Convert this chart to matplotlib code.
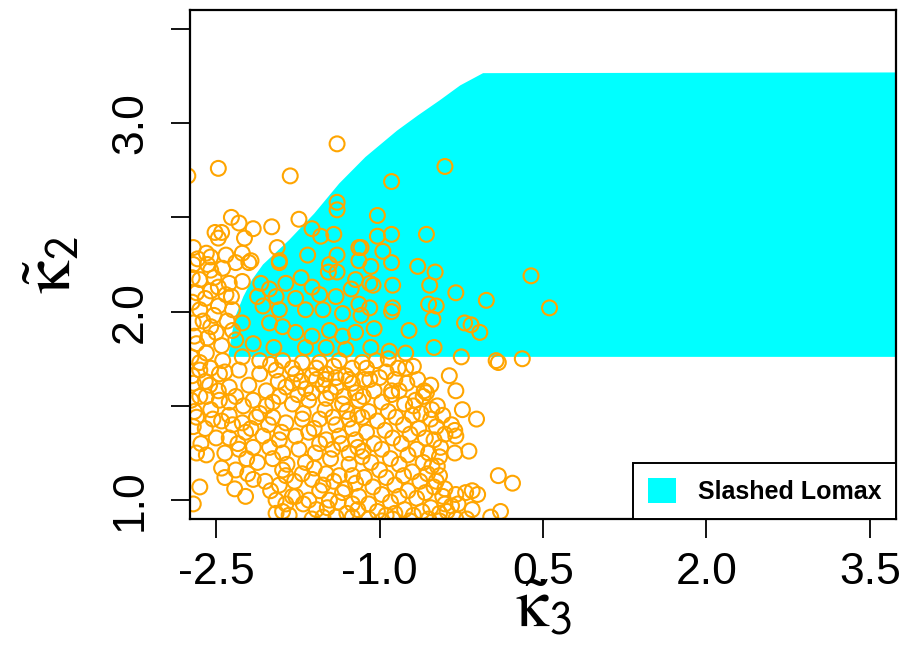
import numpy as np
import matplotlib
matplotlib.use("Agg")
import matplotlib.pyplot as plt
from matplotlib.patches import Polygon, Patch

plt.rcParams["font.family"] = ["Liberation Sans", "DejaVu Sans"]
plt.rcParams["mathtext.fontset"] = "stix"

# boundary of the slashed Lomax (skewness, kurtosis) region
edge_k3 = [-2.39, -2.35, -2.32, -2.25, -2.17, -2.07, -1.83, -1.60, -1.37,
           -1.13, -0.84, -0.65, -0.45, -0.26, -0.05]
edge_k2 = [1.76, 1.90, 1.98, 2.08, 2.17, 2.25, 2.38, 2.52, 2.68,
           2.82, 2.96, 3.04, 3.12, 3.20, 3.265]
k2_top = 3.27
k2_bottom = 1.76

# sample estimates (k3, k2)
sample_pts = [
    (-2.76, 2.72), (-2.48, 2.76), (-1.82, 2.72), (-1.39, 2.89), (-0.40, 2.77),
    (-0.89, 2.69), (-1.39, 2.58), (-1.39, 2.54), (-1.02, 2.51), (-1.02, 2.40),
    (-0.89, 2.41), (-0.57, 2.41), (-1.17, 2.34), (-0.97, 2.32), (0.39, 2.19),
    (0.56, 2.02),
    (-1.08, 2.24), (-0.89, 2.26), (-0.65, 2.24), (-0.49, 2.21), (-1.09, 2.15),
    (-1.06, 2.14), (-0.88, 2.14), (-0.54, 2.14), (-0.30, 2.10), (-0.02, 2.06),
    (-1.09, 2.02), (-0.88, 2.02), (-0.89, 2.00), (-0.55, 2.04), (-0.48, 2.03),
    (-1.17, 1.98), (-0.51, 1.96), (-0.22, 1.94), (-0.16, 1.93), (-0.08, 1.89),
    (-1.05, 1.91), (-0.73, 1.90), (-1.08, 1.81), (-0.50, 1.81), (-0.91, 1.79),
    (-0.76, 1.78), (-0.25, 1.76), (0.07, 1.74), (0.09, 1.73), (0.31, 1.75),
    (-1.03, 1.74), (-0.92, 1.75), (-1.12, 1.70), (-0.94, 1.68), (-0.83, 1.70),
    (-0.76, 1.70), (-0.69, 1.71), (-0.36, 1.66), (-1.14, 1.64), (-1.09, 1.64),
    (-0.53, 1.61), (-0.59, 1.58), (-0.30, 1.58), (-0.89, 1.58),
    (-0.89, 1.56), (-0.57, 1.57), (-0.77, 1.51), (-0.69, 1.50), (-0.47, 1.50),
    (-0.24, 1.48), (-0.11, 1.43), (-0.53, 1.43), (-0.48, 1.39), (-0.34, 1.40),
    (-0.31, 1.37), (-0.30, 1.34), (-0.50, 1.32), (-0.18, 1.26), (-0.31, 1.25),
    (-0.45, 1.23), (-0.47, 1.18), (-0.45, 1.13), (0.09, 1.13), (0.22, 1.09),
    (-0.15, 1.05), (-0.10, 1.03), (-0.21, 1.04), (-0.30, 1.03), (-0.40, 0.98),
    (-0.28, 0.98), (-0.15, 0.95), (0.11, 0.94),
    (-2.36, 2.50), (-2.29, 2.47), (-2.16, 2.44), (-2.51, 2.42), (-2.45, 2.42),
    (-2.48, 2.39), (-2.24, 2.39), (-1.99, 2.45), (-1.74, 2.49), (-1.62, 2.44),
    (-1.54, 2.40), (-1.42, 2.41), (-1.94, 2.34), (-1.19, 2.34), (-1.66, 2.30),
    (-1.39, 2.30), (-1.19, 2.27), (-1.46, 2.25), (-2.71, 2.34), (-2.59, 2.31),
    (-2.67, 2.28), (-2.55, 2.29), (-2.41, 2.30), (-2.26, 2.31), (-2.18, 2.27),
    (-1.92, 2.27),
    (-2.71, 2.25), (-2.58, 2.25), (-2.44, 2.23), (-2.32, 2.26), (-2.20, 2.26),
    (-1.92, 2.26), (-1.47, 2.21), (-1.39, 2.21), (-1.22, 2.17), (-2.65, 2.17),
    (-2.52, 2.18), (-2.38, 2.15), (-2.26, 2.16), (-2.09, 2.15), (-2.01, 2.12),
    (-1.86, 2.15), (-1.72, 2.18), (-1.62, 2.13), (-2.68, 2.10), (-2.55, 2.11),
    (-2.41, 2.09), (-2.12, 2.08), (-1.95, 2.08), (-1.77, 2.07), (-1.55, 2.09),
    (-1.40, 2.08), (-1.26, 2.12), (-1.19, 2.04), (-2.65, 2.01), (-2.48, 2.03),
    (-2.35, 2.01), (-2.07, 2.03), (-1.92, 2.01), (-1.68, 2.01), (-1.52, 2.01),
    (-1.34, 1.99), (-2.71, 1.94), (-2.55, 1.92), (-2.50, 1.89), (-2.26, 1.94),
    (-2.01, 1.94), (-1.89, 1.92), (-1.77, 1.89), (-1.62, 1.87), (-1.46, 1.90),
    (-1.34, 1.87), (-1.22, 1.89), (-2.68, 1.83), (-2.32, 1.85), (-2.16, 1.83),
    (-1.97, 1.81), (-1.68, 1.81), (-1.49, 1.81), (-1.31, 1.80), (-2.73, 1.76),
    (-2.59, 1.78), (-2.44, 1.74), (-2.26, 1.76), (-2.10, 1.74), (-1.89, 1.74),
    (-1.71, 1.73), (-1.55, 1.73), (-1.37, 1.74), (-1.16, 1.73), (-2.65, 1.69),
    (-2.47, 1.67), (-2.29, 1.69), (-2.10, 1.67), (-1.95, 1.69), (-1.77, 1.67),
    (-1.62, 1.66), (-1.49, 1.67), (-1.31, 1.66), (-2.71, 1.62), (-2.56, 1.61),
    (-2.38, 1.60), (-2.20, 1.61), (-2.04, 1.58), (-1.86, 1.60), (-1.68, 1.59),
    (-1.52, 1.61), (-1.40, 1.60), (-1.25, 1.62),
    (-2.73, 1.53), (-2.59, 1.55), (-2.47, 1.53), (-2.32, 1.55), (-2.16, 1.53),
    (-2.04, 1.50), (-1.92, 1.55), (-1.80, 1.51), (-1.65, 1.53), (-1.49, 1.54),
    (-1.34, 1.51), (-1.19, 1.53), (-2.68, 1.44), (-2.53, 1.43), (-2.38, 1.45),
    (-2.26, 1.41), (-2.13, 1.44), (-1.98, 1.44), (-1.86, 1.41), (-1.71, 1.43),
    (-1.55, 1.43), (-1.43, 1.44), (-1.28, 1.43), (-1.16, 1.44), (-2.71, 1.39),
    (-2.38, 1.33), (-2.23, 1.36), (-2.07, 1.34), (-1.92, 1.32), (-1.77, 1.34),
    (-1.65, 1.36), (-1.49, 1.32), (-1.37, 1.34), (-1.22, 1.32), (-2.64, 1.30),
    (-2.59, 1.24), (-2.68, 1.25), (-2.29, 1.27), (-2.16, 1.28), (-2.01, 1.28),
    (-1.89, 1.25), (-1.74, 1.27), (-1.59, 1.25), (-1.43, 1.27), (-1.28, 1.25),
    (-1.16, 1.23), (-2.45, 1.17), (-2.42, 1.12), (-2.32, 1.16), (-2.21, 1.14),
    (-2.16, 1.11), (-1.89, 1.16), (-1.86, 1.13), (-1.71, 1.14), (-1.62, 1.11),
    (-1.49, 1.14), (-1.37, 1.13), (-1.25, 1.13), (-2.65, 1.07), (-2.33, 1.06),
    (-2.23, 1.02), (-2.00, 1.05), (-1.95, 1.00), (-1.86, 0.98), (-1.77, 1.02),
    (-1.89, 0.94), (-1.55, 1.05), (-1.46, 1.00), (-1.34, 1.04), (-1.25, 0.98),
    (-1.19, 1.02), (-1.52, 0.91), (-1.40, 0.91), (-1.25, 0.91), (-2.71, 0.98),
    (-1.15, 1.55), (-1.05, 1.58), (-0.98, 1.52), (-0.92, 1.47), (-1.10, 1.47),
    (-1.02, 1.42), (-0.85, 1.44), (-0.78, 1.40), (-0.70, 1.45), (-0.62, 1.46),
    (-0.95, 1.37), (-1.12, 1.36), (-0.88, 1.33), (-0.80, 1.30), (-0.72, 1.35),
    (-0.64, 1.38), (-0.58, 1.33), (-1.05, 1.30), (-0.98, 1.27), (-1.15, 1.26),
    (-0.90, 1.22), (-0.82, 1.19), (-0.74, 1.24), (-0.66, 1.27), (-0.60, 1.20),
    (-0.55, 1.25), (-1.08, 1.20), (-1.00, 1.16), (-0.94, 1.12), (-0.86, 1.08),
    (-0.78, 1.13), (-0.70, 1.15), (-0.63, 1.10), (-0.56, 1.14), (-1.14, 1.12),
    (-1.06, 1.07), (-0.98, 1.03), (-0.90, 0.99), (-0.82, 1.02), (-0.74, 1.05),
    (-0.66, 1.01), (-0.58, 1.04), (-0.50, 1.07), (-1.10, 0.98), (-1.02, 0.94),
    (-0.94, 0.92), (-0.86, 0.93), (-0.77, 0.95), (-0.69, 0.92), (-0.61, 0.94),
    (-0.53, 0.96), (-0.45, 0.93), (-0.38, 0.94), (-0.34, 0.97), (-0.42, 1.02),
    (-0.48, 1.10), (-0.40, 1.06), (-0.52, 1.18), (-0.44, 1.28), (-0.40, 1.35),
    (-0.52, 1.48), (-0.42, 1.45), (-0.67, 1.53), (-0.60, 1.55), (-0.82, 1.58),
    (-0.75, 1.62), (-0.65, 1.64), (-1.00, 1.65), (-0.86, 1.64),
    (-1.70, 1.46), (-1.60, 1.38), (-1.50, 1.48), (-1.40, 1.40), (-1.30, 1.47),
    (-1.25, 1.38), (-1.20, 1.45), (-1.55, 1.30), (-1.45, 1.22), (-1.35, 1.30),
    (-1.28, 1.19), (-1.20, 1.28), (-1.68, 1.20), (-1.60, 1.17), (-1.52, 1.08),
    (-1.42, 1.10), (-1.32, 1.06), (-1.22, 1.09), (-1.65, 1.00), (-1.58, 0.95),
    (-1.48, 0.96), (-1.38, 0.99), (-1.30, 0.93), (-1.20, 0.95), (-1.75, 1.56),
    (-1.62, 1.57), (-1.45, 1.57), (-1.33, 1.55), (-1.22, 1.57), (-1.80, 1.62),
    (-1.58, 1.64), (-1.40, 1.65), (-1.28, 1.64),
    (-2.00, 1.72), (-1.80, 1.70), (-1.58, 1.70), (-1.42, 1.71), (-1.25, 1.70),
    (-1.93, 1.63), (-1.72, 1.63), (-1.50, 1.64),
    (-2.72, 2.05), (-2.60, 2.07), (-2.52, 1.98), (-2.62, 1.95), (-2.70, 1.87),
    (-2.58, 1.86), (-2.45, 1.82), (-2.40, 1.95), (-2.35, 1.90), (-2.65, 1.73),
    (-2.55, 1.70), (-2.42, 1.68), (-2.72, 1.66), (-2.60, 1.63), (-2.48, 1.58),
    (-2.38, 1.52), (-2.65, 1.55), (-2.55, 1.48), (-2.70, 1.47), (-2.45, 1.42),
    (-2.60, 1.38), (-2.35, 1.40), (-2.50, 1.33), (-2.30, 1.30), (-2.42, 1.25),
    (-2.72, 2.18), (-2.48, 2.13), (-2.36, 2.08), (-2.55, 2.22),
    (-2.25, 1.50), (-2.10, 1.46), (-1.98, 1.52), (-2.18, 1.38), (-2.02, 1.40),
    (-1.90, 1.36), (-2.12, 1.20), (-1.98, 1.22), (-1.85, 1.19), (-2.05, 1.10),
    (-1.92, 1.08), (-1.78, 1.10), (-1.80, 1.02), (-1.70, 0.98), (-1.95, 0.93),
    (-1.83, 0.92), (-2.22, 1.22),
    (-1.62, 0.90), (-1.10, 0.90), (-0.98, 0.89), (-0.88, 0.90), (-0.72, 0.89),
    (-0.55, 0.90), (-0.45, 0.89), (-0.30, 0.90), (-0.20, 0.90), (0.02, 0.91),
]

x_ticks = [-2.5, -1.0, 0.5, 2.0, 3.5]
y_ticks = [1.0, 1.5, 2.0, 2.5, 3.0, 3.5]
y_ticklabels = ["1.0", "", "2.0", "", "3.0", ""]

fig = plt.figure(figsize=(9.06, 6.58), dpi=100)
ax = fig.add_axes([190 / 906, 1 - 519 / 658, 706 / 906, 509 / 658])

# shaded region: curved left edge, flat top and bottom running off to the right
region = list(zip(edge_k3, edge_k2)) + [(5.0, k2_top), (5.0, k2_bottom)]
ax.add_patch(Polygon(region, closed=True, facecolor="cyan", edgecolor="none", zorder=1))

pts = np.array(sample_pts)
ax.scatter(pts[:, 0], pts[:, 1], s=115, facecolors="none", edgecolors="orange",
           linewidths=1.5, zorder=2)

ax.set_xlim(-2.74, 3.74)
ax.set_ylim(0.9, 3.6)
ax.set_xticks(x_ticks)
ax.set_xticklabels([f"{v:.1f}" for v in x_ticks])
ax.set_yticks(y_ticks)
ax.set_yticklabels(y_ticklabels)

for sp in ax.spines.values():
    sp.set_linewidth(1.6)
ax.tick_params(axis="both", direction="out", length=14, width=1.3, labelsize=32)
ax.tick_params(axis="x", pad=10)
ax.tick_params(axis="y", pad=14, labelrotation=90)
for lab in ax.get_yticklabels():
    lab.set_verticalalignment("center")

ax.set_xlabel(r"$\tilde{\mathrm{\kappa}}_{\mathsf{3}}$", fontsize=48)
ax.set_ylabel(r"$\tilde{\mathrm{\kappa}}_{\mathsf{2}}$", fontsize=48)
ax.xaxis.set_label_coords(0.5, -0.115)
ax.yaxis.set_label_coords(-0.15, 0.5)

leg = ax.legend(handles=[Patch(facecolor="cyan", edgecolor="none", label="Slashed Lomax")],
                loc="lower right", borderaxespad=0, fancybox=False, framealpha=1,
                prop={"weight": "bold", "size": 18}, borderpad=0.6,
                handlelength=1.15, handleheight=1.15, handletextpad=0.85)
leg.get_frame().set_edgecolor("black")
leg.get_frame().set_linewidth(1.4)

fig.savefig("out.png", dpi=100)
